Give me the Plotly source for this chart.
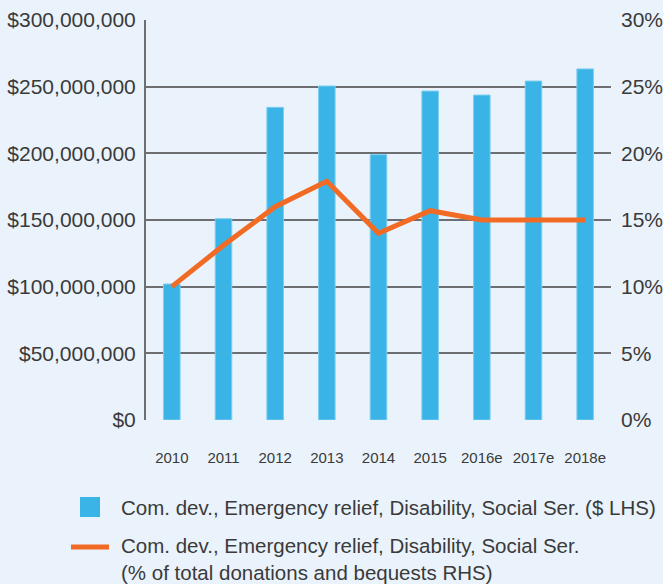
import plotly.graph_objects as go

years = ["2010", "2011", "2012", "2013", "2014", "2015", "2016e", "2017e", "2018e"]
dollars = [102e6, 151e6, 234.5e6, 250.5e6, 199e6, 246.7e6, 243.7e6, 254.2e6, 263.3e6]
pct_share = [10.0, 13.1, 16.0, 17.9, 14.0, 15.7, 15.0, 15.0, 15.0]
pct_ticks = [0, 5, 10, 15, 20, 25, 30]
pct_labels = ["0%", "5%", "10%", "15%", "20%", "25%", "30%"]

bar_name = "Com. dev., Emergency relief, Disability, Social Ser. ($ LHS)"
line_name = "Com. dev., Emergency relief, Disability, Social Ser.<br>(% of total donations and bequests RHS)"

BG = "#EAF3FB"
BLUE = "#3AB4E6"
ORANGE = "#F26B24"
GRID = "#6D6E71"
TXT = "#3A3A3A"
FONT = "Liberation Sans, Arial, sans-serif"

# plot area in pixels, used to place the hand-made legend
L, R, T, B = 146, 611, 20, 420
W, H = R - L, B - T


def px(x):
    return (x - L) / W


def py(y):
    return (B - y) / H


fig = go.Figure()

fig.add_trace(go.Bar(
    x=years, y=dollars, name=bar_name,
    marker=dict(color=BLUE, line=dict(color="#7CCDF0", width=1)),
    showlegend=False,
))

fig.add_trace(go.Scatter(
    x=years, y=pct_share, name=line_name, yaxis="y2", mode="lines",
    line=dict(color=ORANGE, width=5),
    showlegend=False,
))

fig.update_layout(
    width=663, height=584,
    margin=dict(l=L, r=663 - R, t=T, b=584 - B),
    paper_bgcolor=BG, plot_bgcolor=BG,
    font=dict(family=FONT, color=TXT),
    bargap=0.68,
    xaxis=dict(
        type="category", showgrid=False, showline=False, zeroline=False,
        ticks="", tickfont=dict(size=15), ticklabelstandoff=27,
        automargin=False,
    ),
    yaxis=dict(
        range=[0, 300e6], tickvals=[0, 50e6, 100e6, 150e6, 200e6, 250e6, 300e6],
        tickformat="$,.0f", tickfont=dict(size=21),
        showgrid=True, gridcolor=GRID, gridwidth=2,
        showline=True, linecolor=GRID, linewidth=2,
        zeroline=False, ticks="", ticklabelstandoff=4, automargin=False,
    ),
    yaxis2=dict(
        overlaying="y", side="right", range=[0, 30],
        tickvals=pct_ticks, ticktext=pct_labels,
        tickfont=dict(size=21), showgrid=False, showline=False,
        zeroline=False, ticks="", ticklabelstandoff=9, automargin=False,
    ),
)

# legend drawn by hand to match the reference layout
fig.add_shape(type="rect", xref="paper", yref="paper",
              x0=px(80), x1=px(100), y0=py(517), y1=py(497),
              fillcolor=BLUE, line=dict(width=0))
fig.add_shape(type="line", xref="paper", yref="paper",
              x0=px(71), x1=px(109), y0=py(547), y1=py(547),
              line=dict(color=ORANGE, width=5))
fig.add_annotation(xref="paper", yref="paper", x=px(119), y=py(507),
                   text=bar_name, showarrow=False, xanchor="left", yanchor="middle",
                   align="left", font=dict(size=20.5, color=TXT))
fig.add_annotation(xref="paper", yref="paper", x=px(119), y=py(559),
                   text=line_name, showarrow=False, xanchor="left", yanchor="middle",
                   align="left", font=dict(size=20.5, color=TXT))

fig.write_html("out.html", config={"displayModeBar": False},
               post_script="document.body.style.margin='0';")
